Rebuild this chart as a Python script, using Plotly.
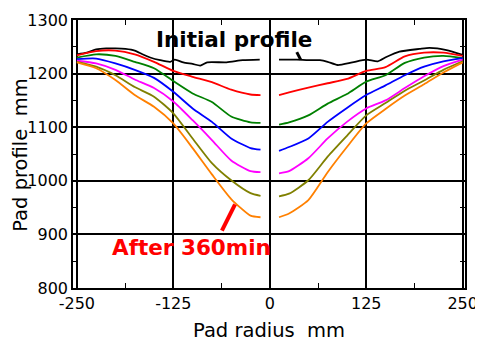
import plotly.graph_objects as go

# ---- data ----
x_left = [-250, -225, -200, -175, -150, -125, -100, -75, -50, -25, -12]
x_right = [12, 25, 50, 75, 100, 125, 150, 175, 200, 225, 250]

red_left = [1234, 1242, 1243, 1236, 1222, 1205, 1194, 1184, 1170, 1161, 1160]
red_right = [1160, 1165, 1174, 1182, 1190, 1205, 1212, 1232, 1239, 1239, 1233]
green_left = [1230, 1236, 1233, 1222, 1210, 1186, 1163, 1147, 1120, 1109, 1108]
green_right = [1105, 1109, 1122, 1144, 1162, 1185, 1197, 1220, 1230, 1233, 1229]
blue_left = [1227, 1228, 1219, 1207, 1192, 1166, 1135, 1110, 1079, 1061, 1058]
blue_right = [1056, 1063, 1079, 1110, 1136, 1160, 1178, 1197, 1213, 1223, 1229]
magenta_left = [1224, 1219, 1207, 1189, 1173, 1148, 1113, 1076, 1038, 1018, 1016]
magenta_right = [1014, 1018, 1042, 1079, 1110, 1135, 1150, 1173, 1195, 1214, 1226]
olive_left = [1222, 1213, 1197, 1175, 1157, 1126, 1079, 1033, 1001, 977, 972]
olive_right = [971, 976, 1001, 1045, 1084, 1122, 1145, 1168, 1187, 1207, 1223]
orange_left = [1221, 1210, 1188, 1160, 1138, 1107, 1061, 1012, 966, 935, 932]
orange_right = [932, 939, 964, 1016, 1063, 1107, 1134, 1159, 1180, 1202, 1221]

black_x_left = [-250, -237, -225, -212, -200, -187, -175, -165, -155, -142, -129, -123, -112, -100, -90, -81, -56, -35, -13]
black_y_left = [1236, 1239, 1245, 1247, 1247, 1246, 1243, 1236, 1230, 1225, 1222, 1226, 1221, 1218, 1215, 1221, 1221, 1225, 1226]
black_x_right = [12, 35, 50, 65, 75, 88, 107, 125, 140, 151, 168, 194, 207, 229, 250]
black_y_right = [1226, 1226, 1225, 1225, 1222, 1216, 1221, 1226, 1223, 1231, 1241, 1246, 1248, 1244, 1235]

series = [
    ("Initial", "#000000", black_x_left, black_y_left, black_x_right, black_y_right),
    ("red", "#ff0000", x_left, red_left, x_right, red_right),
    ("green", "#008000", x_left, green_left, x_right, green_right),
    ("blue", "#0000ff", x_left, blue_left, x_right, blue_right),
    ("magenta", "#ff00ff", x_left, magenta_left, x_right, magenta_right),
    ("olive", "#808000", x_left, olive_left, x_right, olive_right),
    ("orange", "#ff8000", x_left, orange_left, x_right, orange_right),
]

x_ticks = [-250, -125, 0, 125, 250]
y_ticks = [800, 900, 1000, 1100, 1200, 1300]

fig = go.Figure()
for name, color, xl, yl, xr, yr in series:
    for xs, ys in ((xl, yl), (xr, yr)):
        fig.add_trace(go.Scatter(x=xs, y=ys, mode="lines", name=name,
                                 line=dict(color=color, width=1.8, shape="spline", smoothing=0.6),
                                 showlegend=False, hoverinfo="skip"))

font_family = "DejaVu Sans, Verdana, sans-serif"

fig.add_annotation(x=-46, y=1264, text="<b>Initial profile</b>", showarrow=False,
                   font=dict(family=font_family, size=21.5, color="black"),
                   xanchor="center", yanchor="middle")
fig.add_shape(type="line", x0=35, y0=1240, x1=40, y1=1226,
              line=dict(color="black", width=3))

fig.add_annotation(x=-101, y=876, text="<b>After 360min</b>", showarrow=False,
                   font=dict(family=font_family, size=21.5, color="#ff0000"),
                   xanchor="center", yanchor="middle")
fig.add_shape(type="line", x0=-45, y0=956, x1=-62, y1=907,
              line=dict(color="#ff0000", width=4))

# axis titles as paper-positioned annotations
fig.add_annotation(xref="paper", yref="paper", x=0.5, y=-0.157, text="Pad radius \u00a0mm",
                   showarrow=False, xanchor="center", yanchor="middle",
                   font=dict(family=font_family, size=19.5, color="black"))
fig.add_annotation(xref="paper", yref="paper", x=-0.136, y=0.496, text="Pad profile \u00a0mm",
                   showarrow=False, xanchor="center", yanchor="middle", textangle=-90,
                   font=dict(family=font_family, size=19.5, color="black"))

axis_common = dict(
    showline=True, linecolor="black", linewidth=1.5, mirror="ticks",
    showgrid=True, gridcolor="black", gridwidth=1.5, zeroline=False,
    ticks="inside", ticklen=5, tickcolor="black", automargin=False,
    tickfont=dict(family=font_family, size=16, color="black"),
)

fig.update_xaxes(range=[-255, 253], tickmode="array", tickvals=x_ticks,
                 ticktext=[str(v) for v in x_ticks],
                 minor=dict(tickmode="array", tickvals=[-187.5, -62.5, 62.5, 187.5],
                            ticks="inside", ticklen=5, tickcolor="black", showgrid=False),
                 **axis_common)
fig.update_yaxes(range=[800, 1300], tickmode="array", tickvals=y_ticks,
                 ticktext=[str(v) for v in y_ticks],
                 minor=dict(tickmode="array", tickvals=[850, 950, 1050, 1150, 1250],
                            ticks="inside", ticklen=5, tickcolor="black", showgrid=False),
                 **axis_common)

# page body has an 8px default margin: compensate so the plot lands where the reference has it
fig.update_layout(width=475, height=336, margin=dict(l=65, r=18, t=12, b=56),
                  plot_bgcolor="white", paper_bgcolor="white")

fig.write_html("out.html")
